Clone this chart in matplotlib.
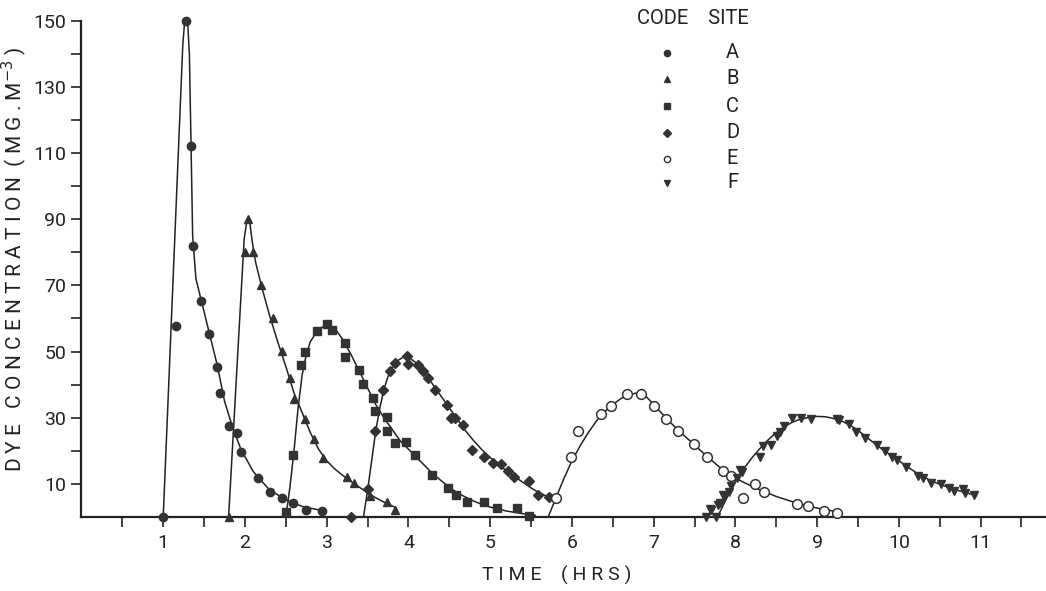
import numpy as np
import matplotlib
matplotlib.use('Agg')
import matplotlib.pyplot as plt

# measured points for each site (time in hrs, dye concentration mg/m3)
a_t = [1.0, 1.16, 1.28, 1.34, 1.36, 1.46, 1.56, 1.66, 1.70, 1.80, 1.90, 1.95, 2.16, 2.31, 2.45, 2.59, 2.75, 2.94]
a_c = [0, 57.6, 150, 112, 82, 65.2, 55.4, 45.4, 37.5, 27.6, 25.4, 19.6, 11.7, 7.7, 5.8, 4.1, 2.1, 1.8]

b_t = [1.80, 2.00, 2.04, 2.10, 2.20, 2.34, 2.45, 2.55, 2.60, 2.74, 2.84, 2.95, 3.25, 3.33, 3.53, 3.74, 3.84]
b_c = [0, 80, 90, 80, 70, 60.1, 50.2, 42.1, 35.8, 29.7, 23.7, 17.9, 12.2, 10.3, 6.2, 4.5, 2.1]

c_t = [2.50, 2.59, 2.69, 2.74, 2.88, 3.00, 3.07, 3.23, 3.23, 3.39, 3.44, 3.57, 3.59, 3.74, 3.74,
       3.84, 3.97, 4.08, 4.29, 4.48, 4.58, 4.72, 4.93, 5.08, 5.33, 5.48]
c_c = [1.6, 18.7, 46, 50, 56.3, 58.4, 56.6, 52.7, 48.5, 44.5, 40.2, 36, 32, 30.2, 26.1,
       22.3, 22.6, 18.7, 12.6, 8.7, 6.7, 4.6, 4.5, 2.6, 2.6, 0.4]

d_t = [3.30, 3.50, 3.59, 3.69, 3.78, 3.84, 3.98, 4.00, 4.12, 4.18, 4.24, 4.33, 4.47, 4.52, 4.57,
       4.67, 4.78, 4.93, 5.03, 5.13, 5.22, 5.29, 5.47, 5.58, 5.72]
d_c = [0, 8.4, 25.9, 38.3, 44, 46.5, 48.7, 46.3, 46, 44, 42, 38.5, 34, 30, 29.8,
       27.7, 20.3, 18, 16.4, 15.9, 14, 12, 10.8, 6.5, 6]

e_t = [5.80, 5.99, 6.08, 6.35, 6.48, 6.67, 6.85, 7.00, 7.15, 7.30, 7.49, 7.65, 7.85, 7.95,
       8.09, 8.24, 8.35, 8.75, 8.89, 9.09, 9.24]
e_c = [5.7, 18.2, 25.9, 31.2, 33.5, 37.3, 37.3, 33.5, 29.5, 25.9, 22.1, 18, 13.8, 12.4,
       5.8, 10, 7.7, 3.9, 3.3, 1.8, 1.1]

f_t = [7.64, 7.69, 7.70, 7.76, 7.79, 7.81, 7.85, 7.86, 7.92, 7.95, 8.02, 8.06, 8.08, 8.30, 8.34,
       8.44, 8.51, 8.54, 8.60, 8.69, 8.80, 8.93, 9.24, 9.27, 9.39, 9.47, 9.59, 9.73, 9.83, 9.92,
       9.98, 10.09, 10.23, 10.30, 10.39, 10.51, 10.61, 10.67, 10.78, 10.81, 10.92]
f_c = [0, 2.3, 2, 0, 3.6, 4.1, 6.5, 6.2, 7.7, 9.3, 11.7, 14.1, 13.6, 18, 21.4,
       21.9, 24.6, 25.8, 27.4, 30, 30, 29.7, 29.7, 29.2, 28.2, 25.8, 23.9, 21.9, 20, 18.2,
       17.1, 15, 12.3, 11.7, 10.2, 10, 8.7, 7.9, 8.4, 7.2, 6.5]

# hand drawn fitted curves
a_ct = [1.0, 1.24, 1.26, 1.28, 1.30, 1.32, 1.34, 1.36, 1.40, 1.46, 1.56, 1.66, 1.75, 1.85, 1.95,
        2.1, 2.3, 2.5, 2.7, 2.97]
a_cc = [0, 143, 149, 150.5, 149, 140, 113, 85, 72, 66, 56, 46, 35, 27, 20.5,
        13.8, 8.2, 5.2, 3.2, 1.8]

b_ct = [1.80, 1.99, 2.02, 2.04, 2.06, 2.09, 2.13, 2.2, 2.3, 2.4, 2.5, 2.6, 2.7, 2.8, 2.9, 3.0,
        3.1, 3.2, 3.3, 3.4, 3.5, 3.6, 3.7, 3.85]
b_cc = [0, 84, 89, 90.5, 89, 83, 77, 70, 61, 53, 45.5, 37.5, 31.5, 25.5, 20.5, 17,
        14.5, 12.5, 10.7, 9, 7.3, 5.8, 4.5, 2.8]

c_ct = [2.50, 2.55, 2.6, 2.65, 2.7, 2.75, 2.8, 2.9, 3.0, 3.1, 3.2, 3.3, 3.4, 3.5, 3.6, 3.7,
        3.8, 3.9, 4.0, 4.1, 4.2, 4.3, 4.4, 4.5, 4.6, 4.7, 4.8, 4.9, 5.0, 5.2, 5.4, 5.55]
c_cc = [0, 9, 20, 33, 43, 49, 53, 56.8, 58, 57, 53.5, 49, 44, 39, 34, 30,
        26.5, 23, 20.5, 18, 15.5, 13, 11, 9, 7.3, 6, 4.8, 3.8, 3, 1.8, 1, 0.5]

d_ct = [3.45, 3.5, 3.55, 3.6, 3.65, 3.7, 3.75, 3.8, 3.87, 3.95, 4.0, 4.1, 4.2, 4.3, 4.4, 4.5,
        4.6, 4.7, 4.8, 4.9, 5.0, 5.1, 5.2, 5.3, 5.4, 5.5, 5.6, 5.72]
d_cc = [0, 8, 17, 26, 33, 38.5, 42.5, 45, 47.3, 48.5, 48.3, 46.5, 43.5, 40, 36.5, 33,
        29.5, 26, 23, 20.3, 18, 15.8, 14, 12.2, 10.5, 8.8, 7.3, 6]

e_ct = [5.71, 5.8, 5.9, 6.0, 6.1, 6.2, 6.3, 6.4, 6.5, 6.6, 6.7, 6.8, 6.9, 7.0, 7.1, 7.2, 7.3,
        7.4, 7.5, 7.6, 7.7, 7.8, 7.9, 8.0, 8.1, 8.2, 8.3, 8.4, 8.5, 8.6, 8.7, 8.8, 8.9, 9.0,
        9.1, 9.25]
e_cc = [0, 5.5, 11.5, 17, 21.5, 25.5, 29, 31.8, 34, 35.8, 37, 37.5, 36.6, 34, 31.3, 28.7, 26.2,
        24, 21.8, 19.5, 17.3, 15.2, 13.3, 11.8, 10.5, 9.3, 8.2, 7.2, 6.2, 5.4, 4.6, 3.9, 3.3, 2.7,
        2.2, 1.6]

f_ct = [7.78, 7.85, 7.9, 8.0, 8.1, 8.2, 8.3, 8.4, 8.5, 8.6, 8.7, 8.8, 8.9, 9.0, 9.1, 9.2, 9.3,
        9.4, 9.5, 9.6, 9.7, 9.8, 9.9, 10.0, 10.1, 10.2, 10.3, 10.4, 10.5, 10.6, 10.7, 10.8, 10.9,
        10.95]
f_cc = [0, 3.5, 6, 11, 14.5, 17.8, 20.7, 23.3, 25.5, 27.3, 28.7, 29.6, 30.1, 30.4, 30.3, 29.8,
        29, 27.8, 26.2, 24.2, 22.3, 20.4, 18.7, 17, 15.3, 13.6, 12.2, 10.9, 9.9, 9, 8.2, 7.5,
        6.8, 6.4]

sites = ['A', 'B', 'C', 'D', 'E', 'F']
site_markers = ['o', '^', 's', 'D', 'o', 'v']

ink = '#333333'
txt = '#222222'
plt.rcParams['font.family'] = ['Roboto', 'DejaVu Sans']

fig = plt.figure(figsize=(10.46, 5.91), dpi=100)
ax = fig.add_axes([0.0779, 0.1252, 0.9221, 0.8398])

points = [(a_t, a_c), (b_t, b_c), (c_t, c_c), (d_t, d_c), (e_t, e_c), (f_t, f_c)]
curves = [(a_ct, a_cc), (b_ct, b_cc), (c_ct, c_cc), (d_ct, d_cc), (e_ct, e_cc), (f_ct, f_cc)]
sizes = [6, 6, 6, 5.5, 7, 6]

for (ct, cc) in curves:
    ax.plot(ct, cc, color='#222222', lw=1.1, zorder=2)

for i, (t, c) in enumerate(points):
    if sites[i] == 'E':
        ax.plot(t, c, ls='none', marker='o', ms=sizes[i], mfc='white', mec=ink, mew=1.1,
                zorder=3, clip_on=False)
    else:
        ax.plot(t, c, ls='none', marker=site_markers[i], ms=sizes[i], mfc=ink, mec=ink,
                zorder=3, clip_on=False)

ax.set_xlim(0, 11.8)
ax.set_ylim(0, 150)
ax.spines['top'].set_visible(False)
ax.spines['right'].set_visible(False)
for s in ['left', 'bottom']:
    ax.spines[s].set_linewidth(1.6)
    ax.spines[s].set_color('#222222')

ax.set_xticks(np.arange(1, 12))
ax.set_xticks(np.arange(0.5, 12, 1.0), minor=True)
ax.set_yticks(np.arange(10, 151, 20))
ax.set_yticks(np.arange(20, 150, 20), minor=True)
ax.tick_params(which='both', direction='out', length=7, width=1.2, color='#222222')
ax.tick_params(axis='x', which='major', pad=5, labelsize=14, labelcolor=txt)
ax.tick_params(axis='y', which='major', pad=4, labelsize=14, labelcolor=txt)

ax.set_xlabel('T I M E    ( H R S )', fontsize=14, color=txt)
ax.xaxis.set_label_coords(0.493, -0.098)
ax.set_ylabel('D Y E   C O N C E N T R A T I O N  ( M G . M$^{-3}$ )', fontsize=15,
              color=txt)
ax.yaxis.set_label_coords(-0.054, 0.52)

# key in the top right
ax.text(0.576, 1.005, 'CODE    SITE', transform=ax.transAxes, fontsize=14.5,
        color=txt, ha='left', va='center')
key_y = [0.935, 0.883, 0.828, 0.774, 0.722, 0.673]
for i, s in enumerate(sites):
    if s == 'E':
        ax.plot([0.607], [key_y[i]], transform=ax.transAxes, marker='o', ms=4.5, mfc='white',
                mec=ink, mew=1.0, ls='none')
    else:
        ax.plot([0.607], [key_y[i]], transform=ax.transAxes, marker=site_markers[i], ms=4.5,
                mfc=ink, mec=ink, ls='none')
    ax.text(0.675, key_y[i], s, transform=ax.transAxes, fontsize=14.5, color=txt,
            ha='center', va='center')

fig.savefig('out.png', dpi=100)
